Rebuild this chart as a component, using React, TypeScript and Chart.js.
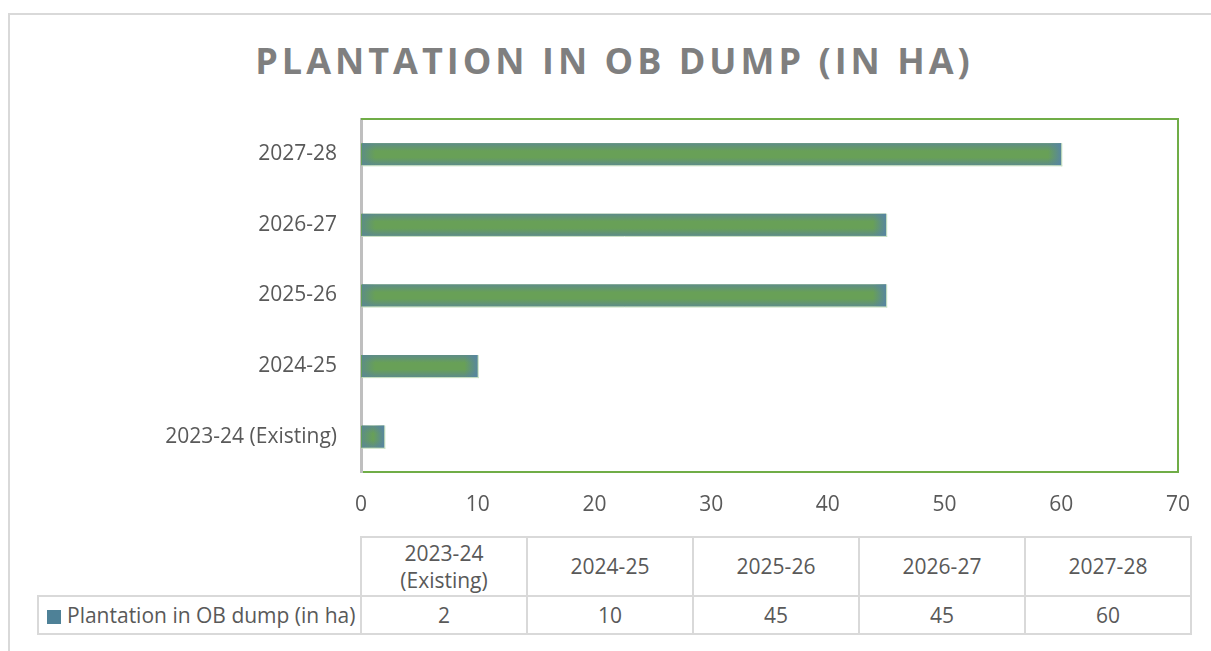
import React, { useEffect, useRef } from "react";
import { Chart, registerables } from "chart.js";

Chart.register(...registerables);

const chartTitle = "PLANTATION IN OB DUMP (IN HA)";
const seriesName = "Plantation in OB dump (in ha)";
const categories = ["2023-24 (Existing)", "2024-25", "2025-26", "2026-27", "2027-28"];
const values = [2, 10, 45, 45, 60];
const xMin = 0;
const xMax = 70;
const xStep = 10;

const FONT = "'Open Sans', sans-serif";
const TEXT = "#595959";

const barShade = {
  id: "barShade",
  afterDatasetsDraw(chart: any) {
    const ctx = chart.ctx;
    const meta = chart.getDatasetMeta(0);
    meta.data.forEach((el: any) => {
      const { x, y, base, height } = el.getProps(["x", "y", "base", "height"], true);
      const left = Math.min(x, base) + 1;
      const right = Math.max(x, base);
      const top = y - height / 2;
      const bottom = y + height / 2;
      const w = right - left;
      ctx.save();
      const g = ctx.createLinearGradient(0, top, 0, bottom);
      g.addColorStop(0, "#5e8c89");
      g.addColorStop(0.35, "#68a057");
      g.addColorStop(0.65, "#68a057");
      g.addColorStop(1, "#5e8c89");
      ctx.fillStyle = g;
      ctx.fillRect(left, top, w, height);
      const f = Math.min(height * 0.6, w / 2);
      const gl = ctx.createLinearGradient(left, 0, left + f, 0);
      gl.addColorStop(0, "rgba(88,134,150,0.7)");
      gl.addColorStop(1, "rgba(88,134,150,0)");
      ctx.fillStyle = gl;
      ctx.fillRect(left, top, f, height);
      const gr = ctx.createLinearGradient(right, 0, right - f, 0);
      gr.addColorStop(0, "rgba(86,132,165,0.9)");
      gr.addColorStop(1, "rgba(86,132,165,0)");
      ctx.fillStyle = gr;
      ctx.fillRect(right - f, top, f, height);
      ctx.strokeStyle = "#c5dfc0";
      ctx.lineWidth = 1;
      ctx.beginPath();
      ctx.moveTo(left, bottom + 0.5);
      ctx.lineTo(right + 1, bottom + 0.5);
      ctx.moveTo(right + 0.5, top);
      ctx.lineTo(right + 0.5, bottom + 1);
      ctx.stroke();
      ctx.restore();
    });
  },
};

const greenFrame = {
  id: "greenFrame",
  beforeDatasetsDraw(chart: any) {
    const { ctx, chartArea } = chart;
    ctx.save();
    ctx.strokeStyle = "#70ad47";
    ctx.lineWidth = 2;
    ctx.beginPath();
    ctx.moveTo(chartArea.left, chartArea.top);
    ctx.lineTo(chartArea.right, chartArea.top);
    ctx.lineTo(chartArea.right, chartArea.bottom);
    ctx.stroke();
    ctx.restore();
  },
};

export default function App() {
  const ref = useRef<HTMLCanvasElement>(null);

  useEffect(() => {
    if (!ref.current) return;
    const chart = new Chart(ref.current, {
      type: "bar",
      data: {
        labels: categories,
        datasets: [
          {
            label: seriesName,
            data: values,
            backgroundColor: "#66a05a",
            categoryPercentage: 0.5,
            barPercentage: 0.625,
          },
        ],
      },
      options: {
        indexAxis: "y",
        animation: false,
        responsive: true,
        maintainAspectRatio: false,
        layout: { padding: { top: 119, right: 33, left: 0, bottom: 0 } },
        plugins: {
          legend: { display: false },
          title: { display: false },
          tooltip: { enabled: false },
        },
        scales: {
          x: {
            min: xMin,
            max: xMax,
            ticks: {
              stepSize: xStep,
              color: TEXT,
              font: { family: FONT, size: 21 },
              padding: 12,
            },
            grid: { display: false },
            border: { display: true, color: "#70ad47", width: 2 },
            afterFit: (s: any) => {
              s.height = 58;
            },
          },
          y: {
            reverse: true,
            ticks: {
              color: TEXT,
              font: { family: FONT, size: 21 },
              padding: 16,
            },
            grid: { display: false },
            border: { display: true, color: "#bfbfbf", width: 3 },
            afterFit: (s: any) => {
              s.width = 361;
            },
          },
        },
      },
      plugins: [greenFrame, barShade],
    });
    return () => chart.destroy();
  }, []);

  const cellBorder = "2px solid #d9d9d9";
  const cellStyle: React.CSSProperties = {
    border: cellBorder,
    width: 164,
    textAlign: "center",
    padding: 0,
    lineHeight: "27px",
  };

  return (
    <div
      style={{
        position: "absolute",
        left: 0,
        top: 0,
        width: 1211,
        height: 651,
        overflow: "hidden",
        background: "#ffffff",
        fontFamily: FONT,
        color: TEXT,
      }}
    >
      <div
        style={{
          position: "absolute",
          left: 8,
          top: 13,
          width: 1300,
          height: 700,
          border: "2px solid #d9d9d9",
          boxSizing: "border-box",
        }}
      />
      <div
        style={{
          position: "absolute",
          left: 9,
          top: 43,
          width: 1211,
          textAlign: "center",
          fontSize: 36,
          lineHeight: "36px",
          fontWeight: 700,
          letterSpacing: "4px",
          color: "#7f7f7f",
          whiteSpace: "nowrap",
        }}
      >
        {chartTitle}
      </div>
      <div style={{ position: "absolute", left: 0, top: 0, width: 1211, height: 530 }}>
        <canvas ref={ref} />
      </div>
      <table
        style={{
          position: "absolute",
          left: 37,
          top: 536,
          borderCollapse: "collapse",
          fontSize: 21,
          color: TEXT,
          fontFamily: FONT,
        }}
      >
        <tbody>
          <tr style={{ height: 59 }}>
            <td style={{ border: "none", width: 322, padding: 0 }} />
            {categories.map((c) => (
              <td key={c} style={cellStyle}>
                {c}
              </td>
            ))}
          </tr>
          <tr style={{ height: 38 }}>
            <td
              style={{
                border: cellBorder,
                padding: "0 0 0 8px",
                textAlign: "left",
                whiteSpace: "nowrap",
                lineHeight: "27px",
              }}
            >
              <span
                style={{
                  display: "inline-block",
                  width: 14,
                  height: 14,
                  background: "#4e8197",
                  marginRight: 6,
                  verticalAlign: "-1px",
                }}
              />
              {seriesName}
            </td>
            {values.map((v, i) => (
              <td key={i} style={cellStyle}>
                {v}
              </td>
            ))}
          </tr>
        </tbody>
      </table>
    </div>
  );
}
